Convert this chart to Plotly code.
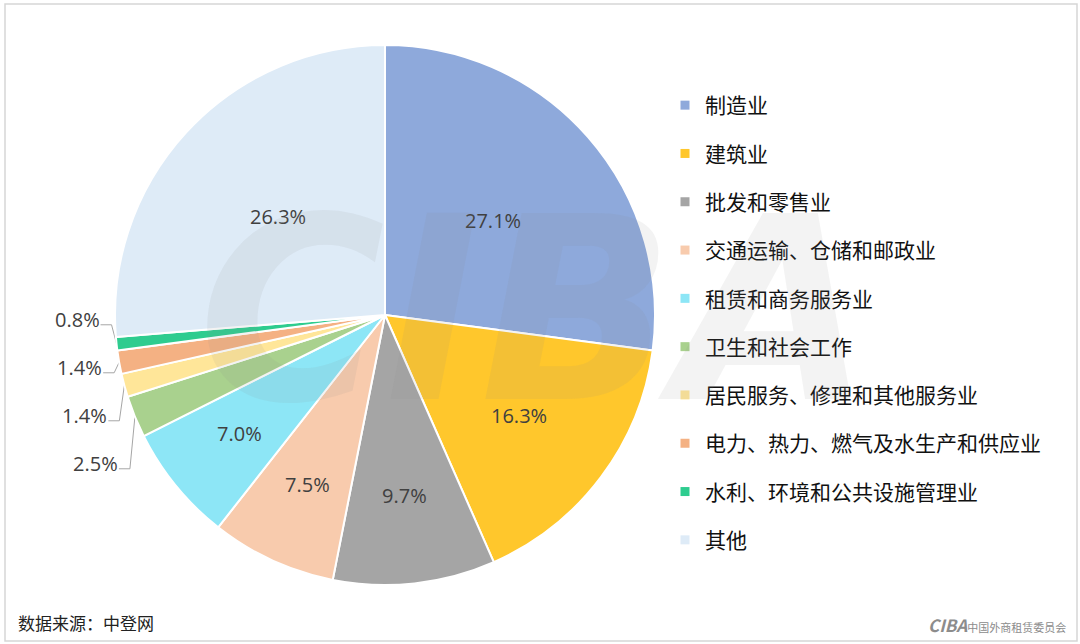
import math
import plotly.graph_objects as go

# ---------------- data ----------------
categories = ["制造业", "建筑业", "批发和零售业", "交通运输、仓储和邮政业", "租赁和商务服务业",
              "卫生和社会工作", "居民服务、修理和其他服务业", "电力、热力、燃气及水生产和供应业",
              "水利、环境和公共设施管理业", "其他"]
values = [27.1, 16.3, 9.7, 7.5, 7.0, 2.5, 1.4, 1.4, 0.8, 26.3]
colors = ["#8EA9DB", "#FFC72C", "#A5A5A5", "#F8CBAD", "#8DE6F6",
          "#A9D18E", "#FFE699", "#F4B183", "#2ECC8F", "#DEEBF7"]
source_text = "数据来源：中登网"

# ---------------- layout constants ----------------
W, H = 1080, 644
CX, CY, R = 385, 315, 270
FONT = "Noto Sans CJK SC, Microsoft YaHei, sans-serif"
NUM_FONT = "Open Sans, Noto Sans CJK SC, sans-serif"
LABEL_COLOR = "#404040"

fig = go.Figure()
fig.add_trace(go.Pie(
    values=values, labels=categories, sort=False, direction="clockwise", rotation=0,
    marker=dict(colors=colors, line=dict(color="white", width=2)),
    textinfo="none", hoverinfo="label+percent", showlegend=False,
    domain=dict(x=[(CX - R) / W, (CX + R) / W], y=[1 - (CY + R) / H, 1 - (CY - R) / H]),
))

# legend entries
for cat, col in zip(categories, colors):
    fig.add_trace(go.Scatter(x=[None], y=[None], mode="markers", name=cat, legendgroup=cat,
                             marker=dict(symbol="square", size=9, color=col), hoverinfo="skip"))

# ---------------- labels computed from the data ----------------
total = sum(values)
annotations = []
outside = []
cum = 0.0
for v in values:
    frac = v / total
    mid = (cum + frac / 2) * 2 * math.pi
    cum += frac
    txt = f"{v:.1f}%"
    if v >= 5:
        rf = 0.75 - 0.8 * frac
        x = CX + R * rf * math.sin(mid)
        y = CY - R * rf * math.cos(mid)
        annotations.append(dict(x=x, y=y, xref="x", yref="y", text=txt, showarrow=False,
                                font=dict(size=20, color=LABEL_COLOR, family=NUM_FONT)))
    else:
        ex = CX + R * math.sin(mid)
        ey = CY - R * math.cos(mid)
        outside.append((ey, ex, txt))

outside.sort()
prev = None
for i, (ey, ex, txt) in enumerate(outside):
    ly = ey - 19 if prev is None else max(ey, prev + 48)
    prev = ly
    elx = ex - 5
    fig.add_trace(go.Scatter(x=[elx - 11, elx, ex], y=[ly, ly, ey], mode="lines",
                             line=dict(color="#A6A6A6", width=1), showlegend=False,
                             hoverinfo="skip"))
    annotations.append(dict(x=elx - 10, y=ly - 5, xref="x", yref="y", text=txt, showarrow=False,
                            xanchor="right", yanchor="middle",
                            font=dict(size=20, color=LABEL_COLOR, family=NUM_FONT)))

# watermark
annotations.append(dict(x=535, y=310, xref="x", yref="y", text="<b><i>CIBA</i></b>", showarrow=False,
                        font=dict(size=255, color="rgba(140,140,140,0.10)", family="DejaVu Sans")))
# source
annotations.append(dict(x=16, y=622, xref="x", yref="y", text=source_text, showarrow=False,
                        xanchor="left", yanchor="middle",
                        font=dict(size=17, color="#222222", family=FONT)))
# bottom-right logo text
annotations.append(dict(x=1068, y=624, xref="x", yref="y",
                        text="<b><i>CIBA</i></b><span style='font-size:11px'>中国外商租赁委员会</span>",
                        showarrow=False, xanchor="right", yanchor="middle",
                        font=dict(size=17, color="#8C8C8C", family=FONT)))

fig.update_layout(
    width=W, height=H, margin=dict(l=0, r=0, t=0, b=0),
    paper_bgcolor="white", plot_bgcolor="rgba(0,0,0,0)",
    xaxis=dict(range=[0, W], visible=False, fixedrange=True),
    yaxis=dict(range=[H, 0], visible=False, fixedrange=True),
    showlegend=True,
    legend=dict(x=665 / W, y=1 - 85 / H, xanchor="left", yanchor="top",
                traceorder="grouped", tracegroupgap=18,
                font=dict(size=21, color="#111111", family=FONT),
                bgcolor="rgba(0,0,0,0)", itemclick=False, itemdoubleclick=False),
    annotations=annotations,
    shapes=[dict(type="rect", xref="x", yref="y", x0=5, y0=4, x1=1077, y1=641,
                 line=dict(color="#D6D6D6", width=1.5), fillcolor="rgba(0,0,0,0)", layer="below")],
    font=dict(family=FONT),
)

fig.write_html("out.html")
